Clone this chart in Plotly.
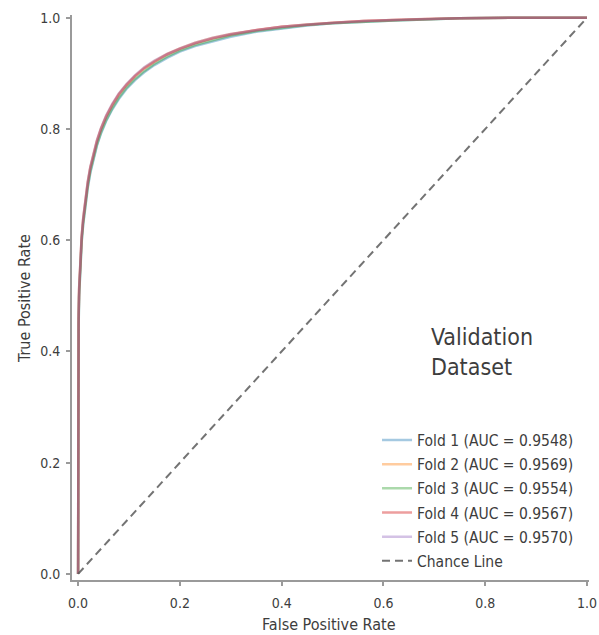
import plotly.graph_objects as go

fpr = [0.0, 0.0, 0.0005, 0.001, 0.002, 0.004, 0.007, 0.010, 0.014, 0.019, 0.024, 0.030,
       0.037, 0.045, 0.055, 0.067, 0.080, 0.095, 0.112, 0.130, 0.150, 0.175, 0.200, 0.230,
       0.265, 0.300, 0.350, 0.400, 0.450, 0.500, 0.560, 0.620, 0.680, 0.750, 0.850, 1.0]

fold1_tpr = [0.0, 0.19, 0.38, 0.445, 0.498, 0.550, 0.596, 0.628, 0.661, 0.694, 0.721, 0.746,
             0.770, 0.792, 0.814, 0.835, 0.854, 0.872, 0.888, 0.902, 0.915, 0.928, 0.939, 0.949,
             0.958, 0.966, 0.975, 0.981, 0.986, 0.990, 0.993, 0.995, 0.997, 0.999, 1.0, 1.0]
fold2_tpr = [0.0, 0.21, 0.41, 0.465, 0.514, 0.563, 0.607, 0.639, 0.672, 0.705, 0.731, 0.756,
             0.779, 0.801, 0.823, 0.844, 0.863, 0.880, 0.896, 0.910, 0.922, 0.935, 0.945, 0.955,
             0.964, 0.971, 0.978, 0.984, 0.988, 0.991, 0.994, 0.996, 0.998, 0.999, 1.0, 1.0]
fold3_tpr = [0.0, 0.20, 0.39, 0.450, 0.502, 0.553, 0.599, 0.631, 0.664, 0.697, 0.724, 0.749,
             0.772, 0.794, 0.816, 0.837, 0.856, 0.874, 0.890, 0.904, 0.917, 0.930, 0.941, 0.951,
             0.960, 0.968, 0.976, 0.982, 0.987, 0.990, 0.993, 0.995, 0.997, 0.999, 1.0, 1.0]
fold4_tpr = [0.0, 0.20, 0.40, 0.460, 0.510, 0.560, 0.605, 0.637, 0.670, 0.703, 0.730, 0.755,
             0.778, 0.800, 0.822, 0.843, 0.862, 0.879, 0.895, 0.909, 0.921, 0.934, 0.944, 0.954,
             0.963, 0.970, 0.978, 0.984, 0.988, 0.991, 0.994, 0.996, 0.998, 0.999, 1.0, 1.0]
fold5_tpr = [0.0, 0.21, 0.41, 0.466, 0.515, 0.564, 0.608, 0.640, 0.673, 0.706, 0.732, 0.757,
             0.780, 0.802, 0.824, 0.845, 0.864, 0.881, 0.897, 0.911, 0.923, 0.935, 0.945, 0.955,
             0.964, 0.971, 0.978, 0.984, 0.988, 0.991, 0.994, 0.996, 0.998, 0.999, 1.0, 1.0]

fold_names = ["Fold 1 (AUC = 0.9548)", "Fold 2 (AUC = 0.9569)", "Fold 3 (AUC = 0.9554)",
              "Fold 4 (AUC = 0.9567)", "Fold 5 (AUC = 0.9570)"]
fold_colors = ["rgba(31,119,180,0.4)", "rgba(255,127,14,0.4)", "rgba(44,160,44,0.4)",
               "rgba(214,39,40,0.45)", "rgba(148,103,189,0.4)"]
chance_x = [0.0, 1.0]
chance_y = [0.0, 1.0]
tick_vals = [0.0, 0.2, 0.4, 0.6, 0.8, 1.0]
tick_text = ["0.0", "0.2", "0.4", "0.6", "0.8", "1.0"]

FONT = "DejaVu Sans Condensed, DejaVu Sans"
TXT = "#3d3d3d"

fig = go.Figure()
for i, (name, tpr, col) in enumerate(zip(fold_names,
                                          [fold1_tpr, fold2_tpr, fold3_tpr, fold4_tpr, fold5_tpr],
                                          fold_colors)):
    fig.add_trace(go.Scatter(x=fpr, y=tpr, mode="lines", name=name,
                             line=dict(color=col, width=2.5),
                             legendgroup=f"g{i}"))
fig.add_trace(go.Scatter(x=chance_x, y=chance_y, mode="lines", name="Chance Line",
                         line=dict(color="rgba(90,90,90,0.85)", width=2, dash="8px,5px"),
                         legendgroup="g5"))

axis_common = dict(showgrid=False, zeroline=False, showline=True, linecolor="#9a9a9a",
                   linewidth=2, ticks="outside", ticklen=4, tickcolor="#9a9a9a",
                   tickwidth=1.5, tickvals=tick_vals, ticktext=tick_text, automargin=False,
                   tickfont=dict(family=FONT, size=14, color=TXT))

fig.update_layout(
    width=599, height=635,
    margin=dict(l=72, r=10, t=15, b=55),
    plot_bgcolor="white", paper_bgcolor="white",
    xaxis=dict(range=[-0.012, 1.004], ticklabelstandoff=5, **axis_common),
    yaxis=dict(range=[-0.011, 1.005], ticklabelstandoff=3, **axis_common),
    legend=dict(x=0.59, y=0.277, xanchor="left", yanchor="top",
                font=dict(family=FONT, size=15.5, color=TXT),
                itemwidth=30, tracegroupgap=1, bgcolor="rgba(0,0,0,0)"),
    showlegend=True,
    annotations=[
        dict(text="Validation<br>Dataset", x=0.69, y=0.403, xref="paper",
             yref="paper", xanchor="left", yanchor="middle", showarrow=False,
             align="left", font=dict(family=FONT, size=23, color=TXT)),
        dict(text="False Positive Rate", x=0.497, y=-0.0785, xref="paper", yref="paper",
             xanchor="center", yanchor="middle", showarrow=False,
             font=dict(family=FONT, size=16, color=TXT)),
        dict(text="True Positive Rate", x=-0.093, y=0.499, xref="paper", yref="paper",
             xanchor="center", yanchor="middle", showarrow=False, textangle=-90,
             font=dict(family=FONT, size=16, color=TXT)),
    ],
)

fig.write_html(
    "out.html",
    config={"displayModeBar": False},
    post_script="document.body.style.margin='0';document.body.style.overflow='hidden';",
)
